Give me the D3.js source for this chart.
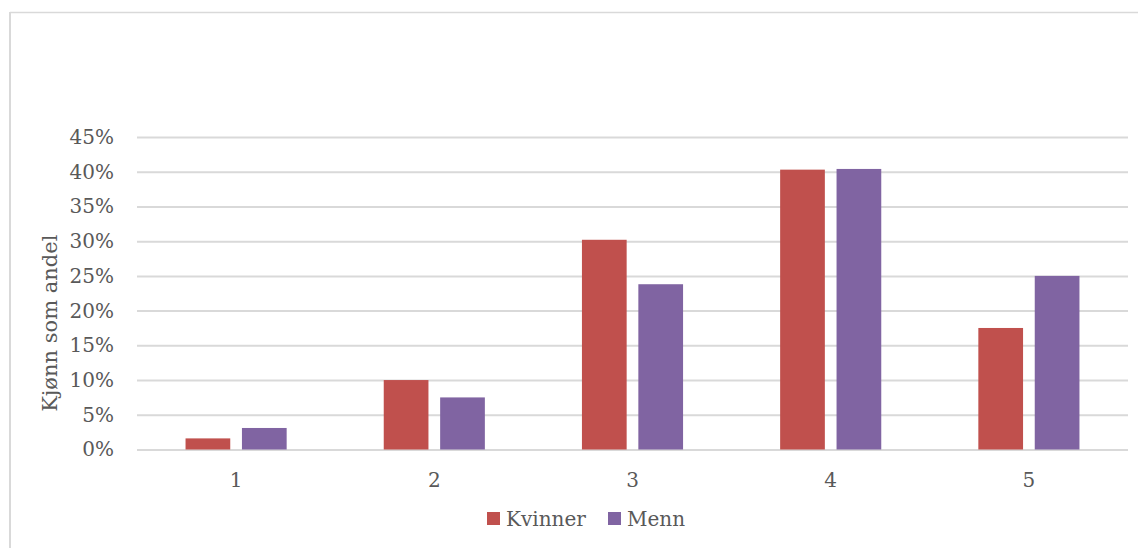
<!DOCTYPE html>
<html>
<head>
<meta charset="utf-8">
<script src="https://cdn.jsdelivr.net/npm/d3@7"></script>
<style>
  html, body { margin: 0; padding: 0; background: #fff; }
  svg { display: block; }
</style>
</head>
<body>
<svg id="chart" width="1138" height="548"></svg>
<script>
const categories = ["1", "2", "3", "4", "5"];
const seriesNames = ["Kvinner", "Menn"];
const kvinner = [0.016, 0.100, 0.302, 0.403, 0.175];
const menn = [0.031, 0.075, 0.238, 0.404, 0.250];
const yTicks = [0, 0.05, 0.10, 0.15, 0.20, 0.25, 0.30, 0.35, 0.40, 0.45];
const colors = ["#C0504D", "#8064A2"];
const yTitle = "Kjønn som andel";

const svg = d3.select("#chart");
const W = 1138, H = 548;
const font = "DejaVu Serif";
const textColor = "#595959";

// outer chart border (top and left visible)
svg.append("line").attr("x1", 10).attr("x2", W).attr("y1", 12.5).attr("y2", 12.5)
  .attr("stroke", "#d9d9d9").attr("stroke-width", 1.5);
svg.append("line").attr("x1", 10).attr("x2", 10).attr("y1", 12).attr("y2", H)
  .attr("stroke", "#d9d9d9").attr("stroke-width", 2);

const plot = { left: 137, right: 1128, top: 137, bottom: 449.5 };

const x = d3.scaleBand().domain(categories).range([plot.left, plot.right]);
const y = d3.scaleLinear().domain([0, 0.45]).range([plot.bottom, plot.top]);

// gridlines
const yAxis = d3.axisLeft(y).tickValues(yTicks)
  .tickFormat(d => Math.round(d * 100) + "%")
  .tickSize(-(plot.right - plot.left)).tickPadding(23);
const gy = svg.append("g").attr("transform", `translate(${plot.left},0)`).call(yAxis);
gy.select(".domain").remove();
gy.selectAll(".tick line").attr("stroke", "#d9d9d9").attr("stroke-width", 2);
gy.selectAll(".tick text").attr("fill", textColor)
  .style("font-family", font).style("font-size", "20px");

// bars
const bw = x.bandwidth();
const barW = bw * 0.2256;
const gap = bw * 0.059;
const data = [kvinner, menn];
data.forEach((vals, si) => {
  svg.append("g").selectAll("rect").data(categories).join("rect")
    .attr("x", (c) => x(c) + bw / 2 + (si === 0 ? -gap / 2 - barW : gap / 2))
    .attr("width", barW)
    .attr("y", (c, i) => y(vals[i]))
    .attr("height", (c, i) => y(0) - y(vals[i]))
    .attr("fill", colors[si]);
});

// x axis
const xAxis = d3.axisBottom(x).tickSize(0).tickPadding(23);
const gx = svg.append("g").attr("transform", `translate(0,${plot.bottom})`).call(xAxis);
gx.select(".domain").remove();
gx.selectAll(".tick text").attr("fill", textColor)
  .style("font-family", font).style("font-size", "20px");

// y title
svg.append("text")
  .attr("transform", `translate(57,${(plot.top + plot.bottom) / 2 + 30}) rotate(-90)`)
  .attr("text-anchor", "middle")
  .attr("fill", textColor)
  .style("font-family", font).style("font-size", "21px")
  .text(yTitle);

// legend
const legendItems = [
  { name: seriesNames[0], color: colors[0], x: 487 },
  { name: seriesNames[1], color: colors[1], x: 608 }
];
const lg = svg.append("g");
legendItems.forEach(it => {
  lg.append("rect").attr("x", it.x).attr("y", 512).attr("width", 13).attr("height", 13)
    .attr("fill", it.color);
  lg.append("text").attr("x", it.x + 19).attr("y", 526)
    .attr("fill", textColor)
    .style("font-family", font).style("font-size", "20px")
    .text(it.name);
});
</script>
</body>
</html>
